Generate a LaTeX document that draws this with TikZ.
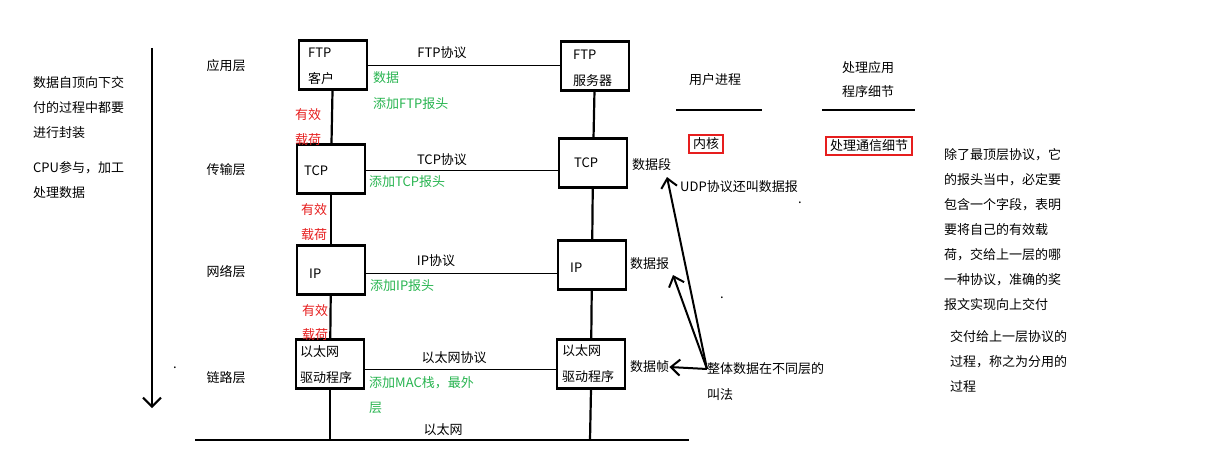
\documentclass[tikz,border=0pt]{standalone}
\usepackage{fontspec}
\setmainfont{Noto Sans CJK SC}
\usetikzlibrary{arrows.meta}
\definecolor{gr}{RGB}{40,180,80}
\definecolor{rd}{RGB}{230,30,30}
\begin{document}
\begin{tikzpicture}[x=1pt,y=-1pt,
 box/.style={draw,line width=2.2pt,minimum width=68pt,minimum height=49pt,inner sep=0pt},
 t/.style={font=\fontsize{13}{15}\selectfont,inner sep=0pt},
 g/.style={t,text=gr,anchor=west},
 r/.style={t,text=rd},
 thin/.style={line width=0.8pt},
 thick/.style={line width=2.2pt},
 arr/.style={line width=2pt,-{Straight Barb[length=9pt,width=16pt]}}]
\useasboundingbox (0,0) rectangle (1224,460);
% left
\draw[line width=2pt,-{Straight Barb[length=9pt,width=18pt]}] (152,48) -- (152,408);
\node[t,anchor=west] (l1) at (33,83) {数据自顶向下交};
\node[t,anchor=west] (l2) at (33,108) {付的过程中都要};
\node[t,anchor=west] (l3) at (33,133) {进行封装};
\node[t,anchor=west] (l4) at (33,168) {CPU参与，加工};
\node[t,anchor=west] (l5) at (33,193) {处理数据};
\node[t] (a1) at (226,66) {应用层};
\node[t] (a2) at (226,170) {传输层};
\node[t] (a3) at (226,272) {网络层};
\node[t] (a4) at (226,378) {链路层};
\node[t] (dot0) at (175,368) {.};
% client boxes
\node[box] (c1) at (333,65) {};
\node[box] (c2) at (331,169) {};
\node[box] (c3) at (331,270) {};
\node[box] (c4) at (330,364) {};
\node[t,anchor=west] at (308,53) {FTP};
\node[t,anchor=west] at (308,79) {客户};
\node[t,anchor=west] at (304,171) {TCP};
\node[t,anchor=west] at (309,274) {IP};
\node[t,anchor=west] at (300,352) {以太网};
\node[t,anchor=west] at (300,378) {驱动程序};
% server boxes
\node[box] (s1) at (595,66) {};
\node[box] (s2) at (593,163) {};
\node[box] (s3) at (592,265) {};
\node[box] (s4) at (591,364) {};
\node[t,anchor=west] at (573,55) {FTP};
\node[t,anchor=west] at (573,81) {服务器};
\node[t,anchor=west] at (574,163) {TCP};
\node[t,anchor=west] at (570,268) {IP};
\node[t,anchor=west] at (562,351) {以太网};
\node[t,anchor=west] at (562,377) {驱动程序};
% verticals
\coordinate (cb) at (330,440); \coordinate (sb) at (590,440);
\draw[thick] (c1) -- (c2); \draw[thick] (c2) -- (c3); \draw[thick] (c3) -- (c4);
\draw[thick] (c4.south) -- (cb);
\draw[thick] (s1) -- (s2); \draw[thick] (s2) -- (s3); \draw[thick] (s3) -- (s4);
\draw[thick] (s4.south) -- (sb);
\coordinate (b0) at (195,440); \coordinate (b1) at (689,440);
\draw[thick] (b0) -- (b1);
\node[t] (eth) at (443,430) {以太网};
% horizontals
\draw[thin] (c1.east |- 0,65) -- (s1.west |- 0,65);
\draw[thin] (c2.east |- 0,170) -- (s2.west |- 0,170);
\draw[thin] (c3.east |- 0,273) -- (s3.west |- 0,273);
\draw[thin] (c4.east |- 0,369) -- (s4.west |- 0,369);
\node[t] at (442,53) {FTP协议};
\node[t] at (442,160) {TCP协议};
\node[t] at (436,261) {IP协议};
\node[t] at (454,358) {以太网协议};
\node[g] at (373,78) {数据};
\node[g] at (373,104) {添加FTP报头};
\node[g] at (369,182) {添加TCP报头};
\node[g] at (370,286) {添加IP报头};
\node[g] at (369,383) {添加MAC栈，最外};
\node[g] at (369,408) {层};
\node[r] at (308,115) {有效};
\node[r] at (308,140) {载荷};
\node[r] at (314,210) {有效};
\node[r] at (314,235) {载荷};
\node[r] at (315,311) {有效};
\node[r] at (315,335) {载荷};
% right
\node[t,anchor=west] (d1) at (632,165) {数据段};
\node[t,anchor=west] (d2) at (630,264) {数据报};
\node[t,anchor=west] (d3) at (630,367) {数据帧};
\coordinate (o) at (707,369);
\coordinate (t1) at (667,177);
\coordinate (t2) at (673,275);
\draw[arr] (o) -- (t1);
\draw[arr] (o) -- (t2);
\draw[arr] (o) -- (d3.east);
\node[t,anchor=west] (w1) at (707,369) {整体数据在不同层的};
\node[t,anchor=west] (w2) at (707,395) {叫法};
\node[t,anchor=west] (udp) at (680,187) {UDP协议还叫数据报};
\node[t] at (800,203) {.}; \node[t] at (722,298) {.};
\node[t] (up) at (715,80) {用户进程};
\draw[thick] (676,110) -- (762,110);
\node[t] at (868,68) {处理应用};
\node[t] at (868,92) {程序细节};
\draw[thick] (822,110) -- (915,110);
\node[t,draw=rd,line width=1.8pt,inner xsep=4pt,inner ysep=3pt] (nk) at (706,144) {内核};
\node[t,draw=rd,line width=1.8pt,inner xsep=4pt,inner ysep=3pt] (tx) at (869,146) {处理通信细节};
\foreach \s [count=\i] in {除了最顶层协议，它,的报头当中，必定要,包含一个字段，表明,要将自己的有效载,荷，交给上一层的哪,一种协议，准确的奖,报文实现向上交付}
 \node[t,anchor=west] at (944,130+25*\i) {\s};
\node[t,anchor=west] at (950,337) {交付给上一层协议的};
\node[t,anchor=west] at (950,362) {过程，称之为分用的};
\node[t,anchor=west] at (950,387) {过程};
\end{tikzpicture}
\end{document}
